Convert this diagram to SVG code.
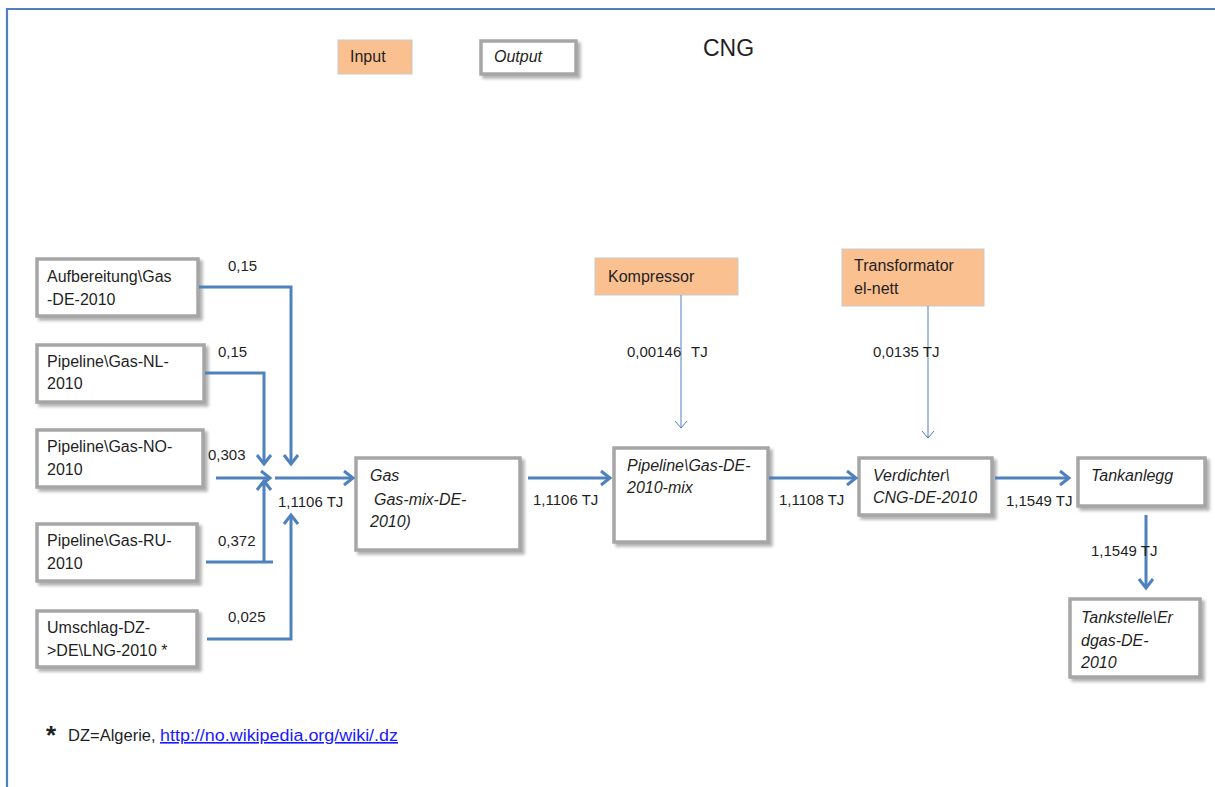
<svg xmlns="http://www.w3.org/2000/svg" width="1215" height="787" viewBox="0 0 1215 787">
<style>
text{font-family:"Liberation Sans",Arial,sans-serif;fill:#1f1f1f}
.n{font-size:16px}
.it{font-style:italic;font-size:16px}
.lbl{font-size:15px}
.big{font-size:23px}
.star{font-size:26px;font-weight:bold}
.box{fill:#fff;stroke:#a6a6a6;stroke-width:3.5;filter:url(#sh)}
.inp{fill:#fac090;stroke:#c9c9c9;stroke-width:1}
.c{fill:none;stroke:#4f81bd;stroke-width:3}
.t{fill:none;stroke:#4f81bd;stroke-width:1}
.frame{stroke:#4f81bd;stroke-width:2.2;fill:none}
.link{font-size:16px;fill:#1a1aff;text-decoration:underline}
</style>
<defs>
<filter id="sh" x="-10%" y="-10%" width="130%" height="140%">
<feDropShadow dx="3" dy="3" stdDeviation="1.5" flood-color="#808080" flood-opacity="0.6"/>
</filter>
<marker id="a" markerUnits="userSpaceOnUse" markerWidth="14" markerHeight="16" refX="10" refY="7" orient="auto" overflow="visible">
<path d="M1,0 L10,7 L1,14" fill="none" stroke="#4f81bd" stroke-width="3"/>
</marker>
<marker id="b" markerUnits="userSpaceOnUse" markerWidth="10" markerHeight="14" refX="7" refY="6" orient="auto" overflow="visible">
<path d="M0,0 L7,6 L0,12" fill="none" stroke="#4f81bd" stroke-width="1"/>
</marker>
</defs>
<rect width="1215" height="787" fill="#fff"/>
<path class="frame" d="M1215,9 L7,9 L7,787"/>

<g id="legend-input"><rect class="inp" x="338" y="40" width="74" height="34"/><text class="n" x="350" y="62">Input</text></g>
<g id="legend-output"><rect class="box" x="481" y="41" width="95" height="33"/><text class="it" x="494" y="62">Output</text></g>
<g id="title"><text class="big" x="703" y="56">CNG</text></g>

<g id="n-aufb"><rect class="box" x="37" y="259" width="161" height="57"/><text class="n" x="47" y="282">Aufbereitung\Gas</text><text class="n" x="47" y="305">-DE-2010</text></g>
<g id="n-nl"><rect class="box" x="37" y="345" width="167" height="57"/><text class="n" x="47" y="367">Pipeline\Gas-NL-</text><text class="n" x="47" y="389">2010</text></g>
<g id="n-no"><rect class="box" x="37" y="430" width="166" height="57"/><text class="n" x="47" y="452">Pipeline\Gas-NO-</text><text class="n" x="47" y="475">2010</text></g>
<g id="n-ru"><rect class="box" x="37" y="524" width="160" height="57"/><text class="n" x="47" y="546">Pipeline\Gas-RU-</text><text class="n" x="47" y="569">2010</text></g>
<g id="n-dz"><rect class="box" x="37" y="611" width="160" height="56"/><text class="n" x="47" y="633">Umschlag-DZ-</text><text class="n" x="47" y="656">&gt;DE\LNG-2010 *</text></g>

<g id="n-gas"><rect class="box" x="356" y="458" width="164" height="92"/><text class="it" x="370" y="481">Gas</text><text class="it" x="374" y="505">Gas-mix-DE-</text><text class="it" x="370" y="527">2010)</text></g>
<g id="n-pipe"><rect class="box" x="614" y="448" width="154" height="94"/><text class="it" x="627" y="471">Pipeline\Gas-DE-</text><text class="it" x="627" y="493">2010-mix</text></g>
<g id="n-verd"><rect class="box" x="859" y="458" width="133" height="57"/><text class="it" x="873" y="481">Verdichter\</text><text class="it" x="873" y="503">CNG-DE-2010</text></g>
<g id="n-tank"><rect class="box" x="1078" y="458" width="127" height="48"/><text class="it" x="1091" y="481">Tankanlegg</text></g>
<g id="n-tst"><rect class="box" x="1070" y="599" width="130" height="78"/><text class="it" x="1081" y="623">Tankstelle\Er</text><text class="it" x="1081" y="646">dgas-DE-</text><text class="it" x="1081" y="668">2010</text></g>

<g id="n-komp"><rect class="inp" x="595" y="258" width="143" height="37"/><text class="n" x="608" y="282">Kompressor</text></g>
<g id="n-trafo"><rect class="inp" x="842" y="249" width="142" height="57"/><text class="n" x="854" y="271">Transformator</text><text class="n" x="854" y="294">el-nett</text></g>

<g id="connectors">
<polyline class="c" points="199,287 291,287 291,464" marker-end="url(#a)"/>
<polyline class="c" points="205,373 264,373 264,464" marker-end="url(#a)"/>
<line class="c" x1="216" y1="478" x2="270" y2="478" marker-end="url(#a)"/>
<line class="c" x1="206" y1="562" x2="273" y2="562"/>
<line class="c" x1="264" y1="562" x2="264" y2="481" marker-end="url(#a)"/>
<polyline class="c" points="207,639 291,639 291,515" marker-end="url(#a)"/>
<line class="c" x1="275" y1="478" x2="353" y2="478" marker-end="url(#a)"/>
<line class="c" x1="528" y1="478" x2="610" y2="478" marker-end="url(#a)"/>
<line class="c" x1="769" y1="478" x2="856" y2="478" marker-end="url(#a)"/>
<line class="c" x1="995" y1="478" x2="1069" y2="478" marker-end="url(#a)"/>
<line class="c" x1="1146" y1="515" x2="1146" y2="588" marker-end="url(#a)"/>
<line class="t" x1="681" y1="295" x2="681" y2="428" marker-end="url(#b)"/>
<line class="t" x1="928" y1="306" x2="928" y2="438" marker-end="url(#b)"/>
</g>

<g id="labels">
<text class="lbl" x="228" y="271">0,15</text>
<text class="lbl" x="218" y="357">0,15</text>
<text class="lbl" x="208" y="460">0,303</text>
<text class="lbl" x="218" y="546">0,372</text>
<text class="lbl" x="228" y="622">0,025</text>
<text class="lbl" x="278" y="507">1,1106 TJ</text>
<text class="lbl" x="533" y="505">1,1106 TJ</text>
<text class="lbl" x="779" y="505">1,1108 TJ</text>
<text class="lbl" x="1006" y="506">1,1549 TJ</text>
<text class="lbl" x="1091" y="556">1,1549 TJ</text>
<text class="lbl" x="627" y="357">0,00146</text><text class="lbl" x="691" y="357">TJ</text>
<text class="lbl" x="873" y="357">0,0135 TJ</text>
</g>

<g id="footnote">
<text class="star" x="46" y="744">*</text>
<text x="68" y="741" style="font-size:16.5px">DZ=Algerie,</text>
<text class="link" x="160" y="741" textLength="238" lengthAdjust="spacingAndGlyphs">http://no.wikipedia.org/wiki/.dz</text>
</g>
</svg>
